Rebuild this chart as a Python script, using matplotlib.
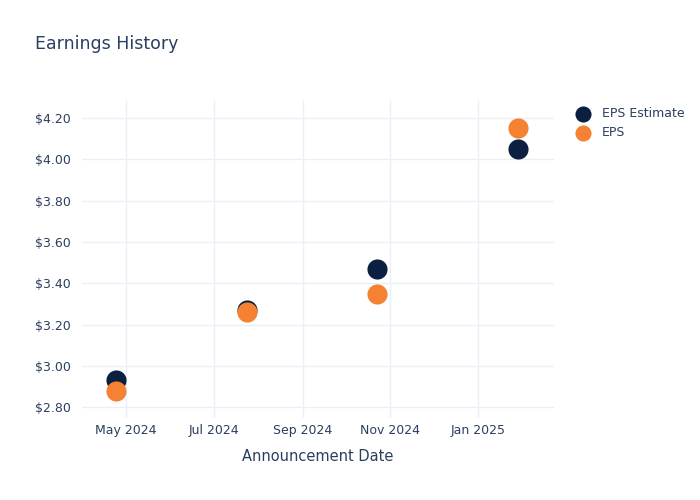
import matplotlib
matplotlib.use("Agg")
import matplotlib.pyplot as plt
import matplotlib.dates as mdates
import numpy as np
from datetime import datetime

dates = ["2024-04-24", "2024-07-24", "2024-10-23", "2025-01-29"]
eps_estimate = [2.93, 3.27, 3.47, 4.05]
eps_actual = [2.88, 3.26, 3.35, 4.15]
series_names = ["EPS Estimate", "EPS"]
x_ticks = ["2024-05-01", "2024-07-01", "2024-09-01", "2024-11-01", "2025-01-01"]
y_ticks = [2.8, 3.0, 3.2, 3.4, 3.6, 3.8, 4.0, 4.2]

TEXT = "#2a3f5f"
GRID = "#ebf0f8"
NAVY = "#0b1f40"
ORANGE = "#f58233"

plt.rcParams['font.family'] = ['DejaVu Sans']

fig = plt.figure(figsize=(7, 5), dpi=100)
ax = fig.add_axes([81.7/700, 1-418/500, (553.7-81.7)/700, (418-100)/500])

d = [datetime.strptime(s, "%Y-%m-%d") for s in dates]
xt = [datetime.strptime(s, "%Y-%m-%d") for s in x_ticks]

ax.scatter(d, eps_estimate, s=210, color=NAVY, label=series_names[0], zorder=3, linewidths=0)
ax.scatter(d, eps_actual, s=210, color=ORANGE, label=series_names[1], zorder=4, linewidths=0)

ax.set_xlim(datetime(2024, 3, 31), datetime(2025, 2, 23))
ax.set_ylim(2.748, 4.287)
ax.set_xticks(xt)
ax.xaxis.set_major_formatter(mdates.DateFormatter("%b %Y"))
ax.set_yticks(y_ticks)
ax.set_yticklabels([f"${v:.2f}" for v in y_ticks])

for s in ax.spines.values():
    s.set_visible(False)
ax.grid(True, color=GRID, linewidth=1, zorder=0)
ax.set_axisbelow(True)
ax.tick_params(axis='both', length=0, colors=TEXT, labelsize=9)
ax.tick_params(axis='x', pad=4)
ax.tick_params(axis='y', pad=8)

ax.set_xlabel("Announcement Date", color=TEXT, fontsize=10.5, labelpad=9)

fig.text(35/700, 1-44/500, "Earnings History", color=TEXT, fontsize=12.5, va='center', ha='left')

leg = fig.legend(loc='upper left', bbox_to_anchor=(570/700, 1-107/500), frameon=False,
                 fontsize=9, labelcolor=TEXT, handletextpad=0.55, labelspacing=0.5,
                 borderaxespad=0, borderpad=0, markerscale=0.8)

fig.savefig("out.png", dpi=100)
